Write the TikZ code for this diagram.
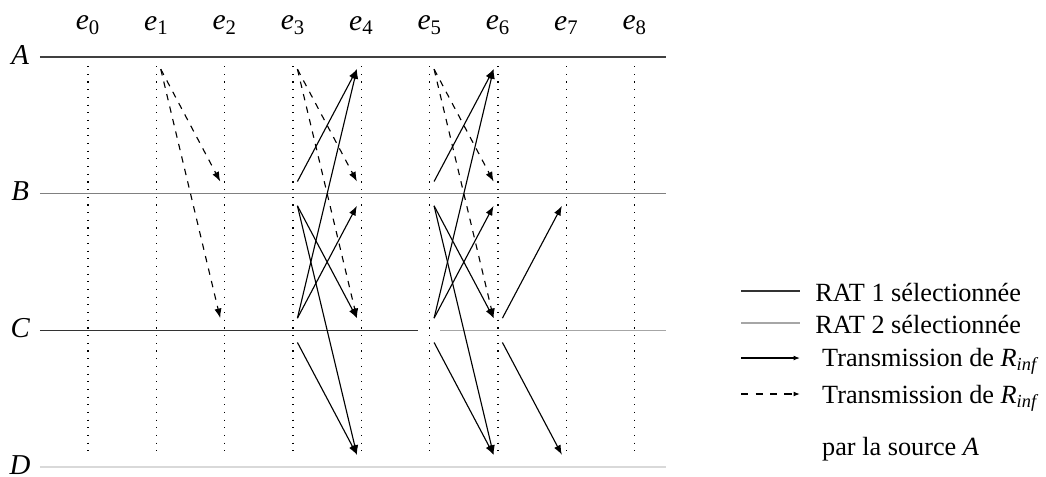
\documentclass[tikz,border=0pt]{standalone}
\usepackage{fontspec}
\setmainfont{Liberation Serif}
\usetikzlibrary{arrows.meta}
\newcommand{\ev}[1]{\textit{e}\textsubscript{#1}}
\newcommand{\rinf}{\textit{R}\textsubscript{\textit{inf}}}
\begin{document}
\begin{tikzpicture}[font=\fontsize{16.4}{19}\selectfont,
  slot/.style={minimum width=1.8mm, minimum height=5.2mm, inner sep=0pt},
  lbl/.style={font=\fontsize{18}{21}\selectfont\itshape, inner sep=0pt},
  rat1/.style={line width=1pt, black!80},
  rat2/.style={line width=1pt, black!35},
  tick/.style={line width=0.7pt, dash pattern=on 0.7pt off 4.1pt},
  tx/.style={line width=0.7pt, -{Latex[length=6pt,width=4.5pt]}},
  txA/.style={tx, dash pattern=on 4pt off 4pt},
  key/.style={anchor=base west, inner sep=0pt}]
  \useasboundingbox (-1.932,1.251) rectangle (21.03,-9.22);
  % timelines
  \foreach \r/\y in {A/0,B/-3,C/-6,D/-9} {
    \node[lbl] (l\r) at (-1.49,\y+0.05) {\r};
    \foreach \i in {0,...,8}
      \node[slot] (\r\i) at (1.5*\i,\y) {};
  }
  \foreach \i in {0,...,8} {
    \node[font=\fontsize{18.5}{21}\selectfont] (e\i) at (1.5*\i,0.7) {\ev{\i}};
    \draw[tick] (1.5*\i,-0.2) -- (1.5*\i,-8.74);
  }
  \draw[line width=1pt, black!75] (-1.054,0) -- (12.69,0);
  \draw[line width=1pt, black!50] (-1.054,-3) -- (12.69,-3);
  \draw[rat1] (-1.054,-6) -- (7.245,-6);
  \draw[rat2] (7.728,-6) -- (12.69,-6);
  \draw[line width=1pt, black!15] (-1.054,-9) -- (12.69,-9);
  % transmissions
  \draw[txA] (A1.south east) -- (B2.north west);
  \draw[txA] (A1.south east) -- (C2.north west);
  \foreach \i/\j in {3/4,5/6} {
    \draw[txA] (A\i.south east) -- (B\j.north west);
    \draw[txA] (A\i.south east) -- (C\j.north west);
    \draw[tx] (B\i.north east) -- (A\j.south west);
    \draw[tx] (C\i.north east) -- (A\j.south west);
    \draw[tx] (B\i.south east) -- (C\j.north west);
    \draw[tx] (B\i.south east) -- (D\j.north west);
    \draw[tx] (C\i.north east) -- (B\j.south west);
    \draw[tx] (C\i.south east) -- (D\j.north west);
  }
  \draw[tx] (C6.north east) -- (B7.south west);
  \draw[tx] (C6.south east) -- (D7.north west);
  % legende
  \foreach \n/\y in {1/-5.137,2/-5.84,3/-6.608,4/-7.398} {
    \coordinate (k\n a) at (14.34,\y);
    \coordinate (k\n b) at (15.63,\y);
  }
  \draw[line width=0.8pt, black!80] (k1a) -- (k1b);
  \draw[line width=0.8pt, black!35] (k2a) -- (k2b);
  \draw[line width=0.7pt, -{Latex[length=4pt,width=3pt]}] (k3a) -- (k3b);
  \draw[line width=0.7pt, dash pattern=on 4.5pt off 4.5pt, -{Latex[length=4pt,width=3pt]}] (k4a) -- (k4b);
  \node[key] (t1) at (15.96,-5.357) {RAT 1 sélectionnée};
  \node[key] (t2) at (15.96,-6.059) {RAT 2 sélectionnée};
  \node[key] (t3) at (16.11,-6.784) {Transmission de \rinf};
  \node[key] (t4) at (16.11,-7.596) {Transmission de \rinf};
  \node[key] (t5) at (16.11,-8.738) {par la source \textit{A}};
\end{tikzpicture}
\end{document}
